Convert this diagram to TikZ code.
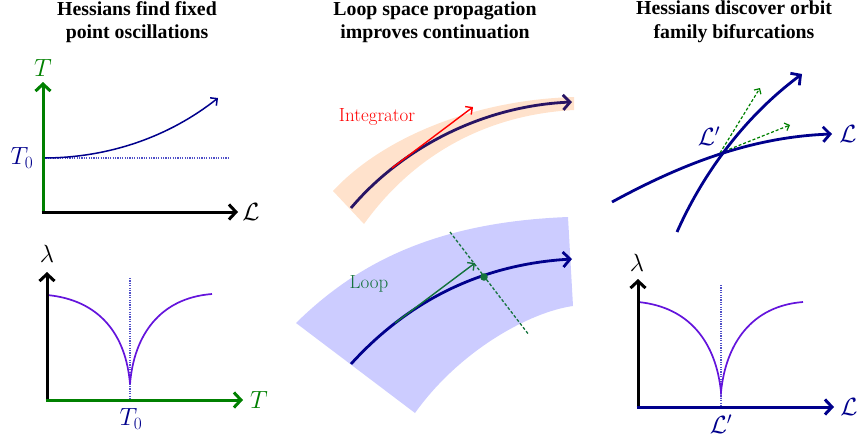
\documentclass[tikz,border=0pt]{standalone}
\usepackage{fontspec}
\newfontfamily\titlefont{Liberation Serif}
\usetikzlibrary{arrows.meta}
\definecolor{navyc}{RGB}{0,0,140}
\definecolor{indigoc}{RGB}{40,20,100}
\definecolor{purplec}{RGB}{100,20,220}
\definecolor{dotc}{RGB}{80,80,200}
\definecolor{axgreen}{RGB}{0,128,0}
\definecolor{loopgreen}{RGB}{20,115,60}
\definecolor{peach}{RGB}{255,226,204}
\definecolor{lavender}{RGB}{204,204,255}
\tikzset{
  x=1pt,y=-1pt,
  axis/.style={line width=3pt,-{Straight Barb[length=7pt,width=15pt]}},
  bigcurve/.style={line width=2.8pt,-{Straight Barb[length=7pt,width=15pt]}},
  thinarrow/.style={line width=1.4pt,-{Straight Barb[length=5pt,width=10pt]}},
  lamcurve/.style={purplec,line width=1.7pt},
  guide/.style={dotc,line width=1.1pt,dash pattern=on 1.2pt off 1.2pt},
  mathlab/.style={font=\fontsize{24}{28}\selectfont,inner sep=0pt},
  textlab/.style={font=\fontsize{19}{22}\selectfont,inner sep=0pt},
  title/.style={font=\titlefont\bfseries\fontsize{19.8}{23.5}\selectfont,align=center,inner sep=0pt},
}
\begin{document}
\begin{tikzpicture}
\useasboundingbox (0,0) rectangle (857,439);
% titles
\node[title] (t1) at (137,22) {Hessians find fixed\\point oscillations};
\node[title] (t2) at (435,22) {Loop space propagation\\improves continuation};
\node[title] (t3) at (734,22) {Hessians discover orbit\\family bifurcations};

% ---------- panel 1 top
\coordinate (o1) at (43,212);
\coordinate (y1) at (43,82);
\coordinate (x1) at (238,212);
\coordinate (p0) at (43,158);
\coordinate (d1) at (230,158);
\coordinate (c1) at (218,98);
\draw[guide] (p0) -- (d1);
\draw[navyc,line width=1.5pt,-{Straight Barb[length=5pt,width=10pt]}] (p0) .. controls (110,158) and (170,136) .. (c1);
\draw[axis,black] ([xshift=-1.5pt]o1) -- (x1);
\draw[axis,axgreen] ([yshift=1.5pt]o1) -- (y1);
\node[mathlab,axgreen] (lT) at (43,68) {$T$};
\node[mathlab,black] (lL1) at (251,212) {$\mathcal{L}$};
\node[mathlab,navyc] (lT0) at (22,158) {$T_0$};

% ---------- panel 1 bottom
\coordinate (o2) at (47,400);
\coordinate (y2) at (47,272);
\coordinate (x2) at (243,400);
\coordinate (g2a) at (130,278);
\coordinate (g2b) at (130,400);
\coordinate (l2a) at (47,295);
\coordinate (cusp2) at (130,384);
\coordinate (l2b) at (212,294);
\draw[guide] (g2a) -- (g2b);
\draw[lamcurve] (l2a) .. controls (100,300) and (126,335) .. (cusp2) .. controls (134,335) and (160,298) .. (l2b);
\draw[axis,axgreen] ([xshift=-1.5pt]o2) -- (x2);
\draw[axis,black] ([yshift=1.5pt]o2) -- (y2);
\node[mathlab,black] (lam1) at (47,254) {$\lambda$};
\node[mathlab,axgreen] (lT2) at (259,400) {$T$};
\node[mathlab,navyc] (lT02) at (131,419) {$T_0$};

% ---------- panel 2 top
\fill[peach] (333,191) .. controls (380,140) and (470,100) .. (574,97) -- (574,110) .. controls (480,115) and (410,160) .. (364,224) -- cycle;
\coordinate (m1a) at (351,208);
\coordinate (m1b) at (572,102);
\coordinate (r1a) at (392,168);
\coordinate (r1b) at (473,107);
\draw[bigcurve,indigoc] (m1a) .. controls (400,150) and (480,106) .. (m1b);
\draw[thinarrow,red] (r1a) -- (r1b);
\node[textlab,red] (integ) at (377,117) {Integrator};

% ---------- panel 2 bottom
\fill[lavender] (296,323) .. controls (360,260) and (440,222) .. (568,217) -- (573,306) .. controls (530,312) and (460,350) .. (415,413) -- cycle;
\coordinate (m2a) at (351,364);
\coordinate (m2b) at (572,259);
\draw[bigcurve,navyc] (m2a) .. controls (400,310) and (470,265) .. (m2b);
\coordinate (dot) at (484,277);
\coordinate (da) at (450,232);
\coordinate (db) at (529,335);
\draw[loopgreen,line width=1.3pt,dash pattern=on 3pt off 2pt] (da) -- (db);
\coordinate (g1a) at (395,323);
\coordinate (g1b) at (475,263);
\draw[thinarrow,loopgreen] (g1a) -- (g1b);
\fill[loopgreen] (dot) circle (3.8pt);
\node[textlab,loopgreen] (loop) at (369,284) {Loop};

% ---------- panel 3 top
\coordinate (aa) at (612,202);
\coordinate (ab) at (832,134);
\coordinate (ba) at (677,232);
\coordinate (bb) at (802,74);
\coordinate (X) at (720,153);
\coordinate (ga) at (760,88);
\coordinate (gb) at (790,125);
\draw[axgreen,line width=1.2pt,dash pattern=on 3pt off 2pt,-{Straight Barb[length=4pt,width=8pt]}] (X) -- (ga);
\draw[axgreen,line width=1.2pt,dash pattern=on 3pt off 2pt,-{Straight Barb[length=4pt,width=8pt]}] (X) -- (gb);
\draw[bigcurve,navyc] (aa) .. controls (680,165) and (750,137) .. (ab);
\draw[bigcurve,navyc] (ba) .. controls (700,180) and (740,120) .. (bb);
\node[mathlab,navyc] (lLp) at (709,136) {$\mathcal{L}'$};
\node[mathlab,navyc] (lL3) at (848,134) {$\mathcal{L}$};

% ---------- panel 3 bottom
\coordinate (o3) at (638,407);
\coordinate (y3) at (638,279);
\coordinate (x3) at (834,407);
\coordinate (g3a) at (721,285);
\coordinate (g3b) at (721,407);
\coordinate (l3a) at (638,302);
\coordinate (cusp3) at (721,392);
\coordinate (l3b) at (803,302);
\draw[guide] (g3a) -- (g3b);
\draw[lamcurve] (l3a) .. controls (690,307) and (716,343) .. (cusp3) .. controls (726,343) and (752,306) .. (l3b);
\draw[axis,navyc] ([xshift=-1.5pt]o3) -- (x3);
\draw[axis,black] ([yshift=1.5pt]o3) -- (y3);
\node[mathlab,black] (lam3) at (637,263) {$\lambda$};
\node[mathlab,navyc] (lL4) at (849,407) {$\mathcal{L}$};
\node[mathlab,navyc] (lLp2) at (721,424) {$\mathcal{L}'$};
\end{tikzpicture}
\end{document}
